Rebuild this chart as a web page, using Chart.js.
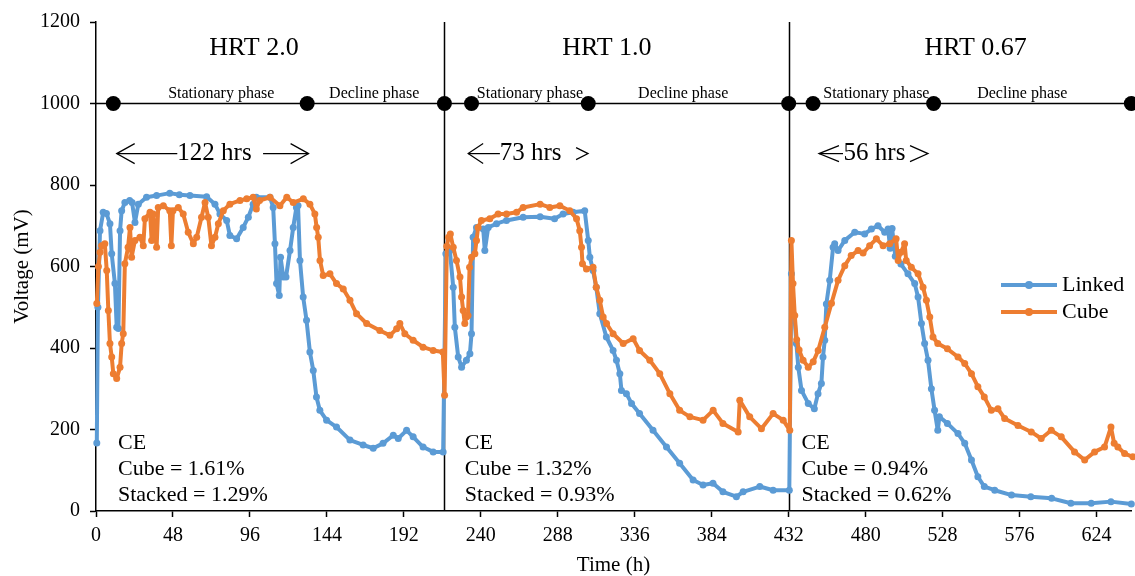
<!DOCTYPE html>
<html><head><meta charset="utf-8">
<script src="https://cdn.jsdelivr.net/npm/chart.js@4.4.1/dist/chart.umd.min.js"></script>
<style>html,body{margin:0;padding:0;background:#fff;} #wrap{width:1135px;height:576px;}</style>
</head><body><div id="wrap"><canvas id="c" width="1135" height="576"></canvas></div>
<script>
const FONT = "'Liberation Serif','Times New Roman',serif";

// Linked series (Time h, Voltage mV)
const linkedP1 = [[0.5,167],[1.2,500],[2.5,688],[4.5,733],[6.5,730],[8.7,705],[9.8,631],[11.8,558],[12.9,451],[14,448],[15,688],[16,737],[18,757],[21,762],[22.5,757],[24.3,708],[26.4,753],[31.5,770],[37.8,774],[46,780],[52,776],[58.6,774],[69,771],[74.2,753],[77.3,729],[81.5,713],[83.5,676],[87.7,668],[91.8,696],[95,721],[98,753],[100,770],[108.5,770],[110.5,745],[111.6,656],[112.6,558],[114.3,529],[115.1,623],[116.8,574],[118.5,574],[121,639],[123,696],[125,745],[126,750],[127.2,615],[129.2,525],[131.3,468],[133.4,390],[135.5,345],[137.5,280],[139.6,247],[143.8,223],[150,206],[158.4,174],[166.6,162],[172.9,154],[179,166],[185.4,186],[188.5,178],[193.7,198],[197.8,182],[204,157],[210.3,145],[216.5,145]];
const linkedP2 = [[218.2,631],[220.7,639],[222.8,549],[223.8,451],[225.9,378],[228,353],[231,370],[233.2,386],[234.2,435],[235.2,672],[237.3,696],[241.5,692],[242.5,639],[244.6,696],[249.8,705],[256,713],[266.4,721],[277,722],[286,717],[291.3,729],[297.6,733],[304.8,737],[307,664],[308,623],[310,590],[312,549],[314.2,484],[318.3,427],[322.5,394],[324.6,370],[326.7,337],[327.7,296],[330.8,288],[334,264],[339,239],[347.4,198],[355.8,157],[364,117],[372.4,76],[378.6,64],[384.8,68],[391,47],[399.4,35],[403.6,47],[414,60],[422.3,51],[432.4,51]];
const linkedP3 = [[433.7,582],[436.8,411],[438,353],[440,296],[444.2,264],[448,251],[450.3,288],[452.4,313],[453.4,378],[454.5,419],[455.5,508],[457.6,566],[459.7,647],[460.7,656],[462.8,639],[467,664],[473.2,684],[479.4,680],[483.6,692],[487.7,700],[491.9,684],[494,692],[495.3,645],[496.5,693],[498.5,625],[502,606],[506.4,582],[510.6,558],[512.7,525],[514.8,460],[516.8,411],[518.9,370],[521,300],[523,247],[525,198],[526,231],[531,215],[537.6,190],[541.8,166],[546,125],[550,84],[554,60],[560.5,51],[571,39],[583,35],[596,31],[608,19],[620.7,19],[633,23],[645.7,17]];

// Cube series (Time h, Voltage mV)
const cubeP1 = [[0.5,509],[1.5,600],[2.5,635],[3.5,651],[5.5,656],[6.7,590],[7.7,492],[8.7,411],[9.8,378],[10.8,337],[12.9,325],[15,353],[16,411],[17,435],[18,607],[20,647],[21.2,696],[22.2,623],[24.3,664],[27.4,672],[29.5,651],[30.5,717],[33.7,733],[34.7,664],[35.7,729],[37.8,647],[38.8,745],[42,749],[46,737],[47,651],[48,737],[51.3,745],[54.4,729],[57.5,684],[60.7,656],[62.8,672],[65.8,721],[68,757],[70,721],[72,651],[74.2,672],[76.3,705],[79.4,737],[83.5,753],[89.8,762],[94,766],[98,770],[100,741],[102,762],[108.5,770],[114.7,749],[119,770],[123,757],[129.3,766],[133.4,753],[136.5,729],[137.6,696],[138.6,672],[139.7,615],[141.7,578],[145.9,582],[150,558],[154.2,545],[158.4,517],[162.5,484],[168.8,460],[177,443],[183.3,431],[187.5,447],[189.5,460],[192.6,435],[197.8,419],[204,402],[210.3,394],[216.3,390],[217.4,284]];
const cubeP2 = [[218.8,650],[219.9,672],[221,680],[222.8,647],[224.8,615],[227,574],[228,525],[229,492],[230,460],[231,476],[232,480],[233,598],[234.2,623],[236.3,631],[237.3,664],[238.3,696],[240.4,713],[245.6,717],[250.8,729],[256,729],[262.3,733],[266.4,745],[277,753],[283,745],[289.3,749],[295.5,737],[299.7,717],[301.7,688],[302.8,647],[303.4,607],[305.9,594],[310,598],[312,549],[314.2,517],[316.3,476],[318.4,460],[322.5,435],[328.8,411],[335,423],[339,394],[345.4,370],[351.6,337],[357.9,288],[364,247],[370.4,231],[378.6,223],[384.9,247],[391,215],[400.5,194],[401.5,272],[407.7,231],[415,202],[422.3,239],[428.6,223],[432.7,198]];
const cubeP3 = [[433.7,664],[434.7,558],[435.8,480],[437,420],[438.5,395],[441,370],[444.2,353],[447.3,366],[450.4,394],[454.5,451],[458.7,510],[462.8,566],[467,602],[471,627],[475.3,639],[478.4,633],[482.5,651],[486.7,668],[490.9,651],[495,656],[499,668],[500.3,615],[502,635],[504.3,656],[505.3,615],[508.5,598],[512.7,582],[515.8,549],[517.9,517],[520,476],[522,427],[525,411],[531,398],[537.6,378],[541.8,362],[546,337],[550,305],[554,280],[558.4,247],[562.5,251],[566.7,227],[575,210],[583.3,194],[589.5,178],[595.8,198],[602,182],[610.3,145],[616.6,125],[622.8,145],[629,157],[633,206],[635,166],[637.3,157],[641.5,141],[646.7,133]];

// Phase marker line at 1000 mV
const phaseLevel = 1000;
const phaseDotsT = [10.8, 131.7, 217.3, 234.2, 307, 432, 447.2, 522.4, 645.7];
const phaseLabels = [["Stationary phase",78.1],["Decline phase",173.5],["Stationary phase",270.6],["Decline phase",366.2],["Stationary phase",486.7],["Decline phase",577.7]];
const dividerT = [217.3, 432];
const panelTitles = [["HRT 2.0",98.5],["HRT 1.0",318.6],["HRT 0.67",548.6]];
const durationLabels = [["122 hrs",73.9],["73 hrs",271.1],["56 hrs",485.5]];
const ceTexts = [[13.7,["CE","Cube = 1.61%","Stacked = 1.29%"]],[230,["CE","Cube = 1.32%","Stacked = 0.93%"]],[440,["CE","Cube = 0.94%","Stacked = 0.62%"]]];
const xTickValues = [0,48,96,144,192,240,288,336,384,432,480,528,576,624];
const yTickValues = [0,200,400,600,800,1000,1200];
const xMax = 645.5;

const toXY = arr => arr.map(p => ({x:p[0], y:p[1]}));
const linked = toXY([...linkedP1, ...linkedP2, ...linkedP3]);
const cube = toXY([...cubeP1, ...cubeP2, ...cubeP3]);
const phaseT = [0, ...phaseDotsT, 650];
const phaseData = phaseT.map(t => ({x:t, y:phaseLevel}));
const phaseRadius = phaseT.map((t,i) => (i===0 || i===phaseT.length-1) ? 0 : 7.5);

const BLUE = '#5B9BD5', ORANGE = '#ED7D31';

function chevron(ctx, tipX, y, dir, d, h){
  ctx.beginPath();
  ctx.moveTo(tipX + dir*d, y - h);
  ctx.lineTo(tipX, y);
  ctx.lineTo(tipX + dir*d, y + h);
  ctx.stroke();
}
function hline(ctx, x1, x2, y){ ctx.beginPath(); ctx.moveTo(x1,y); ctx.lineTo(x2,y); ctx.stroke(); }

const overlay = {
  id: 'overlay',
  beforeDatasetsDraw(chart){
    const {ctx, chartArea:a, scales:{x}} = chart;
    ctx.save(); ctx.strokeStyle = '#000'; ctx.lineWidth = 1.5;
    dividerT.forEach(t => { const px = Math.round(x.getPixelForValue(t))+0.5; ctx.beginPath(); ctx.moveTo(px, a.top); ctx.lineTo(px, a.bottom); ctx.stroke(); });
    ctx.restore();
  },
  afterDatasetsDraw(chart){
    const {ctx, scales:{x, y}} = chart;
    ctx.save();
    ctx.fillStyle = '#000'; ctx.strokeStyle = '#000';
    ctx.textAlign = 'center'; ctx.textBaseline = 'middle';
    ctx.font = '26px ' + FONT;
    panelTitles.forEach(([s,t]) => ctx.fillText(s, x.getPixelForValue(t), y.getPixelForValue(1136)));
    ctx.font = '16px ' + FONT;
    phaseLabels.forEach(([s,t]) => ctx.fillText(s, x.getPixelForValue(t), y.getPixelForValue(1024)));
    ctx.font = '25px ' + FONT;
    const ay = y.getPixelForValue(877);
    durationLabels.forEach(([s,t]) => ctx.fillText(s, x.getPixelForValue(t), ay));
    ctx.lineWidth = 1.2;
    const px = t => x.getPixelForValue(t);
    hline(ctx, px(12.9), px(50.7), ay); chevron(ctx, px(12.9), ay, 1, 18, 10);
    hline(ctx, px(104.2), px(132.6), ay); chevron(ctx, px(132.6), ay, -1, 18, 10);
    hline(ctx, px(232.1), px(251.9), ay); chevron(ctx, px(232.1), ay, 1, 15, 10);
    chevron(ctx, px(306.9), ay, -1, 12, 6);
    hline(ctx, px(450.9), px(465.9), ay); chevron(ctx, px(450.9), ay, 1, 20, 8);
    chevron(ctx, px(518.9), ay, -1, 18, 8);
    ctx.font = '22px ' + FONT; ctx.textAlign = 'left';
    const lineV = [166.5, 103, 39];
    ceTexts.forEach(([t, lines]) => lines.forEach((s,i) => ctx.fillText(s, x.getPixelForValue(t), y.getPixelForValue(lineV[i]))));
    ctx.restore();
  },
  afterDraw(chart){
    const {ctx} = chart;
    ctx.save();
    const items = [['Linked', BLUE, 285], ['Cube', ORANGE, 312]];
    items.forEach(([s, c, yy]) => {
      ctx.strokeStyle = c; ctx.lineWidth = 4;
      ctx.beginPath(); ctx.moveTo(1001, yy); ctx.lineTo(1057, yy); ctx.stroke();
      ctx.fillStyle = c; ctx.beginPath(); ctx.arc(1029, yy, 4, 0, Math.PI*2); ctx.fill();
      ctx.fillStyle = '#000'; ctx.font = '22px ' + FONT; ctx.textAlign = 'left'; ctx.textBaseline = 'middle';
      ctx.fillText(s, 1062, yy);
    });
    ctx.restore();
  }
};

new Chart(document.getElementById('c'), {
  type: 'line',
  data: { datasets: [
    { label: 'Phase', data: phaseData, borderColor: '#000', borderWidth: 1.5, pointRadius: phaseRadius, pointBackgroundColor: '#000', pointBorderWidth: 0, pointHoverRadius: 0, order: 0, clip: false },
    { label: 'Cube', data: cube, borderColor: ORANGE, backgroundColor: ORANGE, borderWidth: 4, borderJoinStyle: 'round', borderCapStyle: 'round', pointRadius: 3.5, pointBackgroundColor: ORANGE, pointBorderWidth: 0, tension: 0, order: 1, clip: false },
    { label: 'Linked', data: linked, borderColor: BLUE, backgroundColor: BLUE, borderWidth: 4, borderJoinStyle: 'round', borderCapStyle: 'round', pointRadius: 3.5, pointBackgroundColor: BLUE, pointBorderWidth: 0, tension: 0, order: 2, clip: false }
  ]},
  options: {
    responsive: false, animation: false, events: [],
    layout: { padding: { top: 21, right: 0, left: 0, bottom: 0 } },
    plugins: { legend: { display: false }, tooltip: { enabled: false } },
    scales: {
      x: { type: 'linear', min: 0, max: xMax,
        afterFit(s){ s.height = 65; },
        afterBuildTicks(s){ s.ticks = xTickValues.map(v => ({value: v})); },
        ticks: { font: { family: FONT, size: 20 }, color: '#000', padding: 7, maxRotation: 0, autoSkip: false, callback: v => String(v) },
        grid: { drawOnChartArea: false, drawTicks: true, tickLength: 6, tickColor: '#000', tickWidth: 1.5 },
        border: { color: '#000', width: 1.5 },
        title: { display: true, text: 'Time (h)', font: { family: FONT, size: 21, lineHeight: 1 }, color: '#000', padding: { top: 0, bottom: 0 } }
      },
      y: { type: 'linear', min: 0, max: 1200,
        afterFit(s){ s.width = 96; },
        afterBuildTicks(s){ s.ticks = yTickValues.map(v => ({value: v})); },
        ticks: { font: { family: FONT, size: 20 }, color: '#000', padding: 10, callback: v => String(v) },
        grid: { drawOnChartArea: false, drawTicks: true, tickLength: 6, tickColor: '#000', tickWidth: 1.5 },
        border: { color: '#000', width: 1.5 },
        title: { display: true, text: 'Voltage (mV)', font: { family: FONT, size: 21, lineHeight: 1 }, color: '#000', padding: { top: 12, bottom: 0 } }
      }
    }
  },
  plugins: [overlay]
});
</script></body></html>
